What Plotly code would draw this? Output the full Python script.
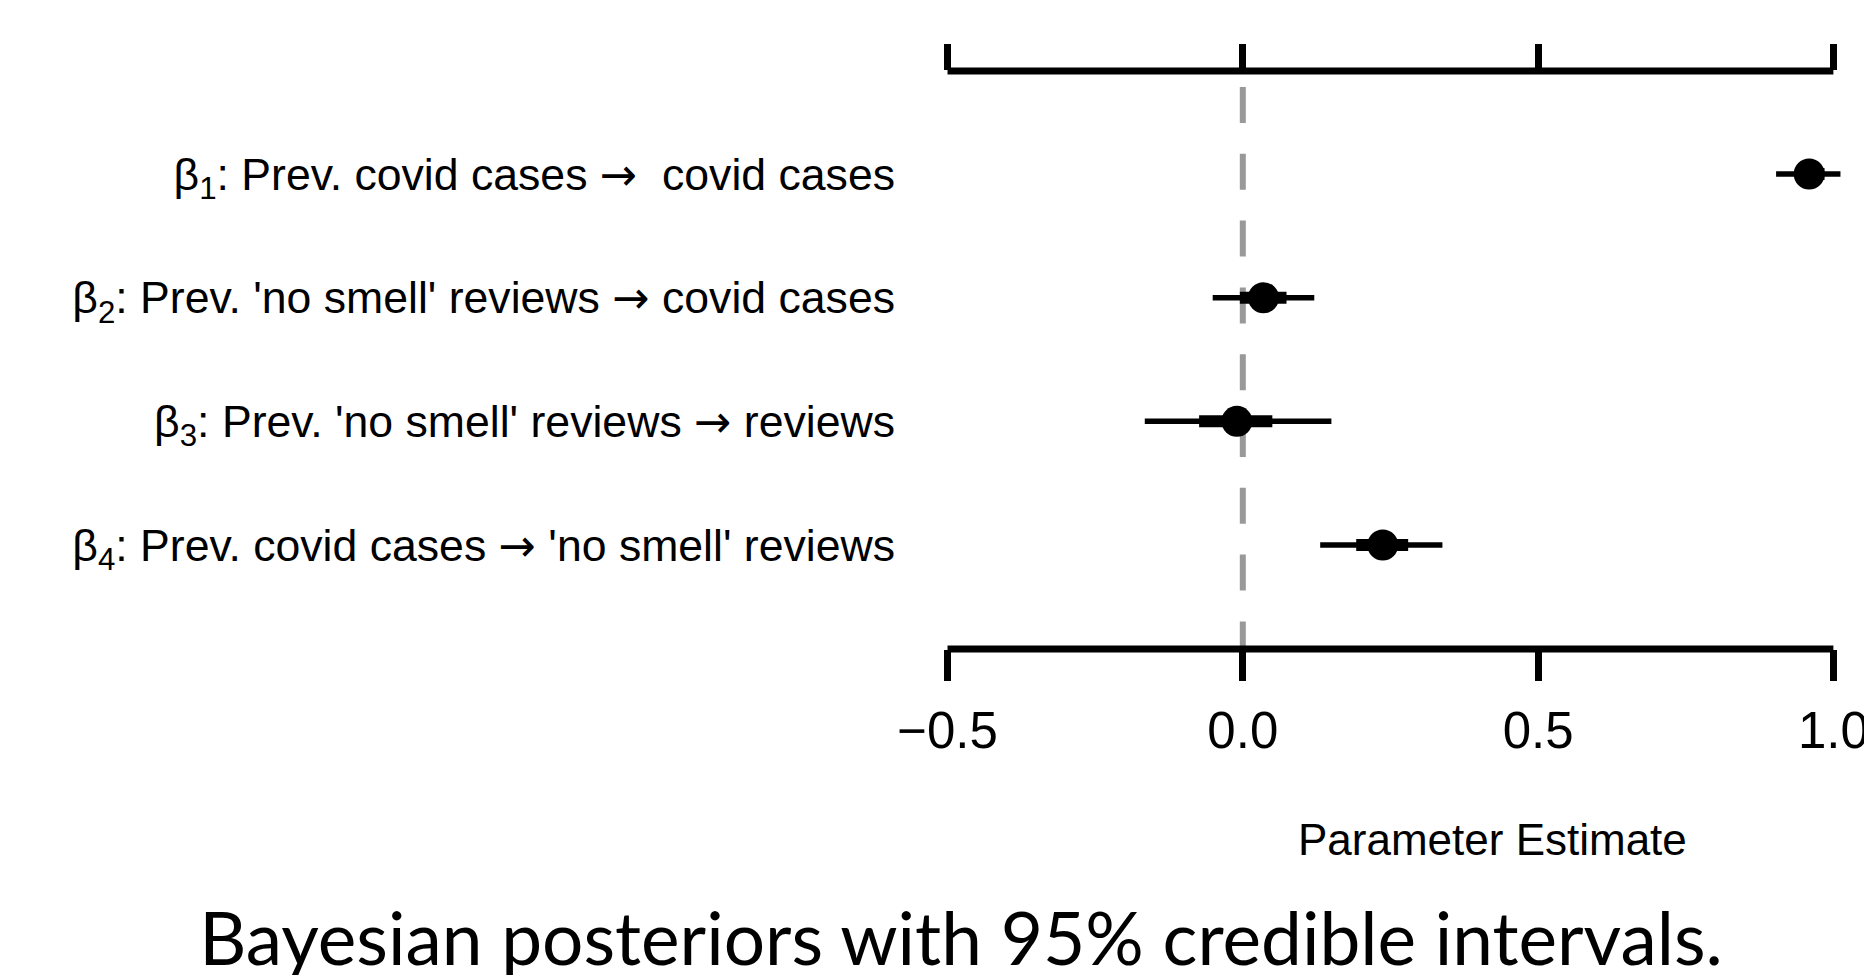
import plotly.graph_objects as go

# ---- data ----
ARROW = '<span style="font-family:DejaVu Sans">→</span>'
labels = [
    "β<sub>1</sub>: Prev. covid cases " + ARROW + "\u00a0 covid cases",
    "β<sub>2</sub>: Prev. 'no smell' reviews " + ARROW + " covid cases",
    "β<sub>3</sub>: Prev. 'no smell' reviews " + ARROW + " reviews",
    "β<sub>4</sub>: Prev. covid cases " + ARROW + " 'no smell' reviews",
]
rows = [1, 2, 3, 4]
estimates = [0.959, 0.035, -0.010, 0.237]
ci95_low = [0.903, -0.051, -0.166, 0.131]
ci95_high = [1.012, 0.121, 0.150, 0.338]
ci50_low = [0.940, -0.005, -0.074, 0.192]
ci50_high = [0.985, 0.074, 0.050, 0.280]
tick_values = [-0.5, 0.0, 0.5, 1.0]
tick_labels = ["\u22120.5", "0.0", "0.5", "1.0"]

W, H = 1864, 975
ML, MR, MT, MB = 918, 7, 71, 326
XR = [-0.55, 1.04]
YR = [4.841, 0.167]

def seg(lo, hi):
    xs, ys = [], []
    for a, b, r in zip(lo, hi, rows):
        xs += [a, b, None]
        ys += [r, r, None]
    return xs, ys

fig = go.Figure()
x95, y95 = seg(ci95_low, ci95_high)
fig.add_trace(go.Scatter(x=x95, y=y95, mode="lines",
                         line=dict(color="black", width=5.5),
                         hoverinfo="skip", showlegend=False))
x50, y50 = seg(ci50_low, ci50_high)
fig.add_trace(go.Scatter(x=x50, y=y50, mode="lines",
                         line=dict(color="black", width=12),
                         hoverinfo="skip", showlegend=False))
fig.add_trace(go.Scatter(x=estimates, y=rows, mode="markers",
                         marker=dict(color="black", size=31, line=dict(width=0)),
                         showlegend=False))
# invisible trace for top axis
fig.add_trace(go.Scatter(x=[tick_values[0]], y=[rows[0]], xaxis="x2",
                         mode="markers", marker=dict(opacity=0),
                         hoverinfo="skip", showlegend=False))

font_main = "Liberation Sans, Arial, Helvetica, sans-serif"

fig.update_layout(
    width=W, height=H,
    margin=dict(l=ML, r=MR, t=MT, b=MB, pad=0, autoexpand=False),
    paper_bgcolor="white", plot_bgcolor="white",
    font=dict(family=font_main, color="black"),
    xaxis=dict(range=XR, tickvals=tick_values, ticktext=tick_labels,
               showgrid=False, zeroline=False, showline=False, automargin=False,
               ticks="outside", ticklen=31, tickwidth=7, tickcolor="black",
               tickfont=dict(size=51, family=font_main, color="black"),
               ticklabelstandoff=6, ticklabeloverflow="allow"),
    xaxis2=dict(range=XR, overlaying="x", side="top", tickvals=tick_values,
                showticklabels=False, showgrid=False, zeroline=False,
                showline=False, automargin=False, ticks="outside", ticklen=26,
                tickwidth=7, tickcolor="black"),
    yaxis=dict(range=YR, tickvals=rows, ticktext=labels, showgrid=False,
               zeroline=False, showline=False, ticks="", automargin=False,
               tickfont=dict(size=44.6, family=font_main, color="black"),
               ticklabelstandoff=22),
    title=dict(text="Bayesian posteriors with 95% credible intervals.",
               x=961 / W, y=1 - 939 / H, xanchor="center", yanchor="middle",
               xref="container", yref="container",
               font=dict(family="Lato, sans-serif", size=73, color="black")),
)

# axis lines spanning the tick range
for yv in (0, 1):
    fig.add_shape(type="line", xref="x", yref="paper",
                  x0=tick_values[0], x1=tick_values[-1], y0=yv, y1=yv,
                  line=dict(color="black", width=7))
# dashed reference line at zero
fig.add_shape(type="line", xref="x", yref="paper", x0=0, x1=0,
              y0=(H - MB - 87) / (H - MT - MB), y1=0,
              line=dict(color="#999999", width=6, dash="36px,30.8px"),
              layer="below")

fig.add_annotation(text="Parameter Estimate", xref="paper", yref="paper",
                   x=(1492 - ML) / (W - ML - MR), y=-(839 - (H - MB)) / (H - MT - MB),
                   xanchor="center", yanchor="middle", showarrow=False,
                   font=dict(size=44, family=font_main, color="black"))

fig.write_html("out.html",
               config={"displayModeBar": False},
               post_script="document.body.style.margin='0';"
                           "document.body.style.overflow='hidden';")
